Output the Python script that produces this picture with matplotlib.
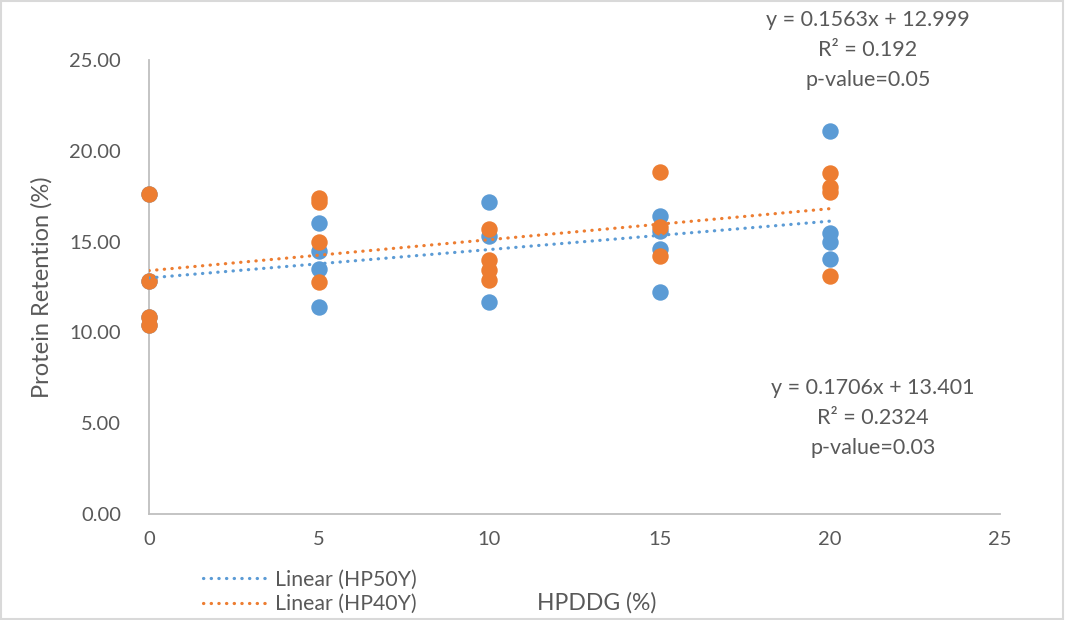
import matplotlib.pyplot as plt
import numpy as np
from matplotlib.patches import Rectangle

# HPDDG level (%) and protein retention (%) for the two series
hp50y_x = [0, 0, 0, 0, 5, 5, 5, 5, 10, 10, 10, 15, 15, 15, 15, 20, 20, 20, 20]
hp50y_y = [17.6, 12.82, 10.85, 10.38, 16.0, 14.5, 13.5, 11.4, 17.2, 15.3, 11.7,
           16.4, 15.6, 14.6, 12.25, 21.1, 15.5, 15.0, 14.05]

hp40y_x = [0, 0, 0, 0, 5, 5, 5, 5, 10, 10, 10, 10, 15, 15, 15, 20, 20, 20, 20]
hp40y_y = [17.6, 12.82, 10.85, 10.38, 17.4, 17.2, 15.0, 12.75, 15.7, 14.0, 13.45, 12.9,
           18.85, 15.8, 14.2, 18.8, 18.0, 17.75, 13.1]

# trendline coefficients shown on the chart
fit_50 = (0.1563, 12.999)
fit_40 = (0.1706, 13.401)

blue = '#5B9BD5'
orange = '#ED7D31'
grey = '#595959'

plt.rcParams['font.family'] = ['Lato', 'DejaVu Sans']

fig = plt.figure(figsize=(10.65, 6.2), dpi=100)
ax = fig.add_axes([149 / 1065, 1 - 514 / 620, (1000 - 149) / 1065, (514 - 60) / 620])

ax.scatter(hp50y_x, hp50y_y, s=140, color=blue, zorder=3, linewidths=0, clip_on=False)
ax.scatter(hp40y_x, hp40y_y, s=140, color=orange, zorder=4, linewidths=0, clip_on=False)

xs = np.array([0, 20])
ax.plot(xs, fit_50[0] * xs + fit_50[1], color=blue, linewidth=2.3,
        linestyle=(0, (0.1, 2.3)), dash_capstyle='round', zorder=5, label='Linear (HP50Y)')
ax.plot(xs, fit_40[0] * xs + fit_40[1], color=orange, linewidth=2.3,
        linestyle=(0, (0.1, 2.3)), dash_capstyle='round', zorder=5, label='Linear (HP40Y)')

ax.set_xlim(0, 25)
ax.set_ylim(0, 25)
ax.set_xticks(range(0, 26, 5))
ax.set_yticks(np.arange(0, 26, 5))
ax.set_yticklabels(['%.2f' % v for v in np.arange(0, 26, 5)])
ax.tick_params(length=0, labelsize=14.5, colors=grey, pad=12)
ax.tick_params(axis='y', pad=20)

for side in ['top', 'right']:
    ax.spines[side].set_visible(False)
for side in ['left', 'bottom']:
    ax.spines[side].set_color('#bfbfbf')
    ax.spines[side].set_linewidth(1.3)

ax.set_ylabel('Protein Retention (%)', fontsize=17, color=grey, labelpad=12)
fig.text(597 / 1065, 1 - 603 / 620, 'HPDDG (%)', fontsize=16.5, color=grey, ha='center', va='center')

ax.annotate('y = 0.1563x + 12.999\nR² = 0.192\np-value=0.05', xy=(868 / 1065, 1 - 50 / 620),
            xycoords='figure fraction', ha='center', va='center', fontsize=15.5, color=grey,
            linespacing=1.6)
ax.annotate('y = 0.1706x + 13.401\nR² = 0.2324\np-value=0.03', xy=(873 / 1065, 1 - 418 / 620),
            xycoords='figure fraction', ha='center', va='center', fontsize=15.5, color=grey,
            linespacing=1.6)

leg = fig.legend(loc='center left', bbox_to_anchor=(192 / 1065, 1 - 592 / 620), frameon=False,
                 fontsize=15.3, handlelength=3.0, handletextpad=0.4, labelspacing=0.2,
                 borderpad=0, labelcolor=grey)

fig.patches.append(Rectangle((0.001, 0.001), 0.997, 0.997, transform=fig.transFigure,
                             fill=False, edgecolor='#d9d9d9', linewidth=1.5))

fig.savefig('out.png', dpi=100)
